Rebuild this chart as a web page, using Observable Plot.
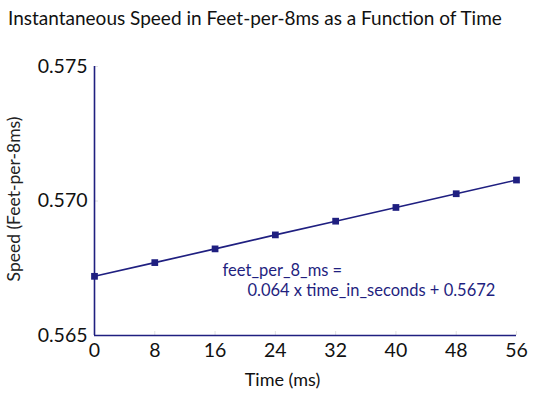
<!DOCTYPE html>
<html><head><meta charset="utf-8">
<script src="https://cdn.jsdelivr.net/npm/d3@7"></script>
<script src="https://cdn.jsdelivr.net/npm/@observablehq/plot@0.6"></script>
<style>
body{margin:0;background:#fff;font-family:Lato,"Open Sans",sans-serif;}
#title{height:40px;line-height:36px;font-size:19px;color:#111;width:548px;padding-left:8px;box-sizing:border-box;white-space:nowrap;}
</style></head><body>
<div id="title">Instantaneous Speed in Feet-per-8ms as a Function of Time</div>
<div id="chart"></div>
<script>
const timeMs = [0, 8, 16, 24, 32, 40, 48, 56];
const speed = [0.5672, 0.56771, 0.56822, 0.56874, 0.56925, 0.56976, 0.57027, 0.57078];
const xTicks = [0, 8, 16, 24, 32, 40, 48, 56];
const yTicks = [0.565, 0.570, 0.575];
const eqX = [17, 20.3];
const eqY = [0.56742, 0.56668];
const eqText = ["feet_per_8_ms =", "0.064 x time_in_seconds + 0.5672"];
const xLabel = ["Time (ms)"];
const yLabel = ["Speed (Feet-per-8ms)"];

const navy = "#1f1f80";
const data = timeMs.map((t, i) => ({t, v: speed[i]}));
const eq = eqText.map((s, i) => ({x: eqX[i], y: eqY[i], s}));

const chart = Plot.plot({
  width: 548, height: 356,
  marginLeft: 94, marginRight: 32, marginTop: 26, marginBottom: 61,
  style: {fontFamily: "Lato, 'Open Sans', sans-serif", color: "#111", background: "#fff"},
  x: {domain: [0, 56]},
  y: {domain: [0.565, 0.575]},
  marks: [
    Plot.axisX(xTicks, {tickSize: -4, stroke: "#e2e2e2", tickFormat: () => "", label: null}),
    Plot.axisY(yTicks, {tickSize: -4, stroke: "#e2e2e2", tickFormat: () => "", label: null}),
    Plot.axisX(xTicks, {tickSize: 0, tickPadding: 8, fontSize: 19.5, fill: "#111", label: null}),
    Plot.axisY(yTicks, {tickSize: 0, tickPadding: 7, fontSize: 19.5, fill: "#111", tickFormat: d3.format(".3f"), label: null}),
    Plot.text(xLabel, {text: d => d, frameAnchor: "bottom", textAnchor: "middle", dy: 50, dx: -23, fontSize: 18, fill: "#111"}),
    Plot.text(yLabel, {text: d => d, frameAnchor: "left", textAnchor: "middle", rotate: -90, dx: -80, dy: -2, fontSize: 17.5, fill: "#222"}),
    Plot.ruleX([0], {stroke: navy, strokeWidth: 1.6}),
    Plot.ruleY([0.565], {stroke: navy, strokeWidth: 1.6}),
    Plot.line(data, {x: "t", y: "v", stroke: navy, strokeWidth: 1.6}),
    Plot.dot(data, {x: "t", y: "v", symbol: "square", fill: navy, stroke: null, r: 3.8}),
    Plot.text(eq, {x: "x", y: "y", text: "s", textAnchor: "start", fill: navy, fontSize: 16.5})
  ]
});
document.getElementById("chart").appendChild(chart);
</script>
</body></html>
